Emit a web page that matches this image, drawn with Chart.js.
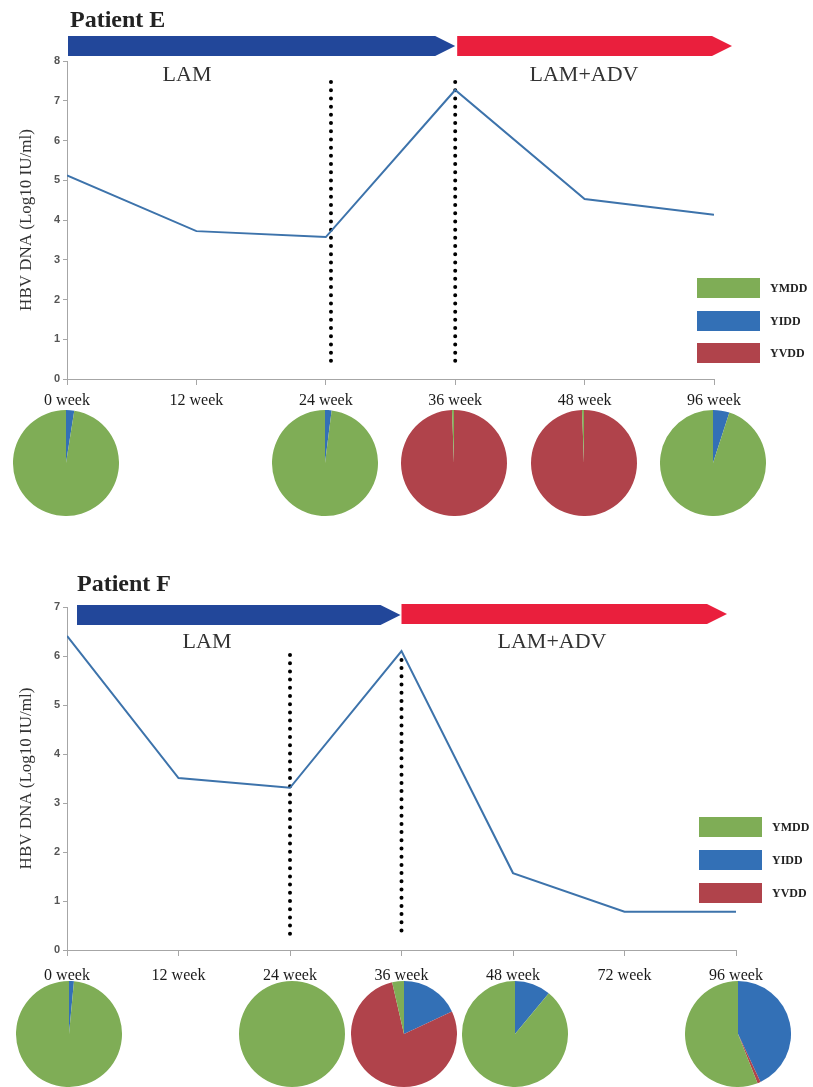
<!DOCTYPE html>
<html>
<head>
<meta charset="utf-8">
<script src="https://cdn.jsdelivr.net/npm/chart.js@4.4.1/dist/chart.umd.min.js"></script>
<style>
  body { margin: 0; background: #fff; width: 813px; height: 1087px; position: relative; overflow: hidden; }
  canvas { position: absolute; }
</style>
</head>
<body>
<canvas id="chartE" width="813" height="412" style="left:0;top:0"></canvas>
<canvas id="chartF" width="813" height="430" style="left:0;top:560px"></canvas>
<script>
// Patient E
const weeksE = ['0 week', '12 week', '24 week', '36 week', '48 week', '96 week'];
const dnaE = [5.12, 3.72, 3.57, 7.27, 4.53, 4.13];
// Patient F
const weeksF = ['0 week', '12 week', '24 week', '36 week', '48 week', '72 week', '96 week'];
const dnaF = [6.41, 3.51, 3.31, 6.10, 1.57, 0.78, 0.78];

// mutant proportions (%) at the weeks that have a pie (index into weeks arrays)
const mutants = ['YMDD', 'YIDD', 'YVDD'];
const pieAtE = [0, 2, 3, 4, 5];
const ymddE = [97.5, 98, 0.6, 0.6, 95];
const yiddE = [2.5, 2, 0, 0, 5];
const yvddE = [0, 0, 99.4, 99.4, 0];
const pieAtF = [0, 2, 3, 4, 6];
const ymddF = [98.5, 100, 3.6, 89, 56];
const yiddF = [1.5, 0, 18, 11, 43];
const yvddF = [0, 0, 78.4, 0, 1];

// dotted lines where the mutants were checked (x index, top value, bottom value)
const switchE = [{at: 2.04, from: 7.47, to: 0.43}, {at: 3, from: 7.47, to: 0.43}];
const switchF = [{at: 2, from: 6.02, to: 0.24}, {at: 3, from: 5.92, to: 0.3}];

const colors = {YMDD: '#7fad56', YIDD: '#3370b6', YVDD: '#b0434b'};
const serif = '"Liberation Serif", "Times New Roman", serif';

// arrows, phase labels, titles, legend
const decor = {
  id: 'decor',
  afterDraw(chart, args, opts) {
    const ctx = chart.ctx;
    const xs = chart.scales.x;
    ctx.save();
    opts.arrows.forEach(a => {
      const x0 = xs.getPixelForValue(a.from) + a.fromOff;
      const tip = xs.getPixelForValue(a.to) + a.toOff;
      const shaft = tip - 20;
      ctx.fillStyle = a.color;
      ctx.beginPath();
      ctx.moveTo(x0, a.y);
      ctx.lineTo(shaft, a.y);
      ctx.lineTo(tip, a.y + 10);
      ctx.lineTo(shaft, a.y + 20);
      ctx.lineTo(x0, a.y + 20);
      ctx.closePath();
      ctx.fill();
    });
    opts.texts.forEach(t => {
      ctx.font = t.font;
      ctx.fillStyle = t.color || '#333';
      ctx.textAlign = t.align || 'center';
      ctx.textBaseline = 'alphabetic';
      ctx.fillText(t.text, t.x, t.y);
    });
    const lg = opts.legend;
    mutants.forEach((m, i) => {
      ctx.fillStyle = colors[m];
      ctx.fillRect(lg.x, lg.ys[i], 63, 20);
      ctx.fillStyle = '#222';
      ctx.font = 'bold 12px ' + serif;
      ctx.textAlign = 'left';
      ctx.textBaseline = 'middle';
      ctx.fillText(m, lg.x + 73, lg.ys[i] + 11);
    });
    ctx.restore();
  }
};

function lineChart(id, labels, values, yMax, switches, cfg) {
  const ds = [{
    data: values.map((v, i) => ({x: i, y: v})),
    borderColor: '#3d73ab', borderWidth: 2, pointRadius: 0, tension: 0
  }];
  switches.forEach(s => ds.push({
    data: [{x: s.at, y: s.from}, {x: s.at, y: s.to}],
    borderColor: '#000', borderWidth: 4, borderDash: [0, 8.2], borderCapStyle: 'round', pointRadius: 0
  }));
  return new Chart(document.getElementById(id), {
    type: 'line',
    data: {datasets: ds},
    options: {
      responsive: false,
      animation: false,
      events: [],
      layout: {padding: cfg.padding},
      plugins: {legend: {display: false}, tooltip: {enabled: false}, decor: cfg.decor},
      scales: {
        x: {
          type: 'linear', min: 0, max: labels.length - 1,
          afterFit: s => { s.height = cfg.xHeight; },
          border: {color: '#a6a6a6'},
          grid: {drawOnChartArea: false, tickLength: 6, color: '#a6a6a6'},
          ticks: {stepSize: 1, callback: v => labels[v], font: {family: serif, size: 16}, color: '#1a1a1a',
                  padding: cfg.xPad, maxRotation: 0, autoSkip: false}
        },
        y: {
          min: 0, max: yMax,
          afterFit: s => { s.width = 67; },
          border: {color: '#a6a6a6'},
          grid: {drawOnChartArea: false, tickLength: 4, color: '#a6a6a6'},
          ticks: {stepSize: 1, font: {family: '"Liberation Sans", sans-serif', size: 11, weight: 'bold'}, color: '#555', padding: 3},
          title: {display: true, text: 'HBV DNA (Log10 IU/ml)', font: {family: serif, size: 17}, color: '#333', padding: {top: 16, bottom: 0}}
        }
      }
    },
    plugins: [decor]
  });
}

function pies(chart, shift, at, ymdd, yidd, yvdd, cy) {
  const xs = chart.scales.x;
  at.forEach((idx, i) => {
    const c = document.createElement('canvas');
    c.width = 106; c.height = 106;
    c.style.left = (xs.getPixelForValue(idx) - 53 + shift) + 'px';
    c.style.top = (cy - 53) + 'px';
    document.body.appendChild(c);
    new Chart(c, {
      type: 'pie',
      data: {
        labels: ['YIDD', 'YVDD', 'YMDD'],
        datasets: [{
          data: [yidd[i], yvdd[i], ymdd[i]],
          backgroundColor: [colors.YIDD, colors.YVDD, colors.YMDD],
          borderWidth: 0, hoverOffset: 0
        }]
      },
      options: {responsive: false, animation: false, events: [],
                plugins: {legend: {display: false}, tooltip: {enabled: false}}}
    });
  });
}

const chartE = lineChart('chartE', weeksE, dnaE, 8, switchE, {
  padding: {top: 61, right: 99, left: 0, bottom: 0},
  xHeight: 33, xPad: 6,
  decor: {
    arrows: [
      {from: 0, fromOff: 1, to: 3, toOff: 0, y: 36, color: '#22479a'},
      {from: 3, fromOff: 2, to: 5, toOff: 18, y: 36, color: '#ea1f3d'}
    ],
    texts: [
      {text: 'Patient E', x: 70, y: 27, font: 'bold 24px ' + serif, align: 'left', color: '#222'},
      {text: 'LAM', x: 187, y: 81, font: '22px ' + serif},
      {text: 'LAM+ADV', x: 584, y: 81, font: '22px ' + serif}
    ],
    legend: {x: 697, ys: [278, 311, 343]}
  }
});

const chartF = lineChart('chartF', weeksF, dnaF, 7, switchF, {
  padding: {top: 47, right: 77, left: 0, bottom: 0},
  xHeight: 40, xPad: 10,
  decor: {
    arrows: [
      {from: 0, fromOff: 10, to: 3, toOff: -1, y: 45, color: '#22479a'},
      {from: 3, fromOff: 0, to: 6, toOff: -9, y: 44, color: '#ea1f3d'}
    ],
    texts: [
      {text: 'Patient F', x: 77, y: 31, font: 'bold 24px ' + serif, align: 'left', color: '#222'},
      {text: 'LAM', x: 207, y: 88, font: '22px ' + serif},
      {text: 'LAM+ADV', x: 552, y: 88, font: '22px ' + serif}
    ],
    legend: {x: 699, ys: [257, 290, 323]}
  }
});

pies(chartE, -1, pieAtE, ymddE, yiddE, yvddE, 463);
pies(chartF, 2, pieAtF, ymddF, yiddF, yvddF, 1034);
</script>
</body>
</html>
